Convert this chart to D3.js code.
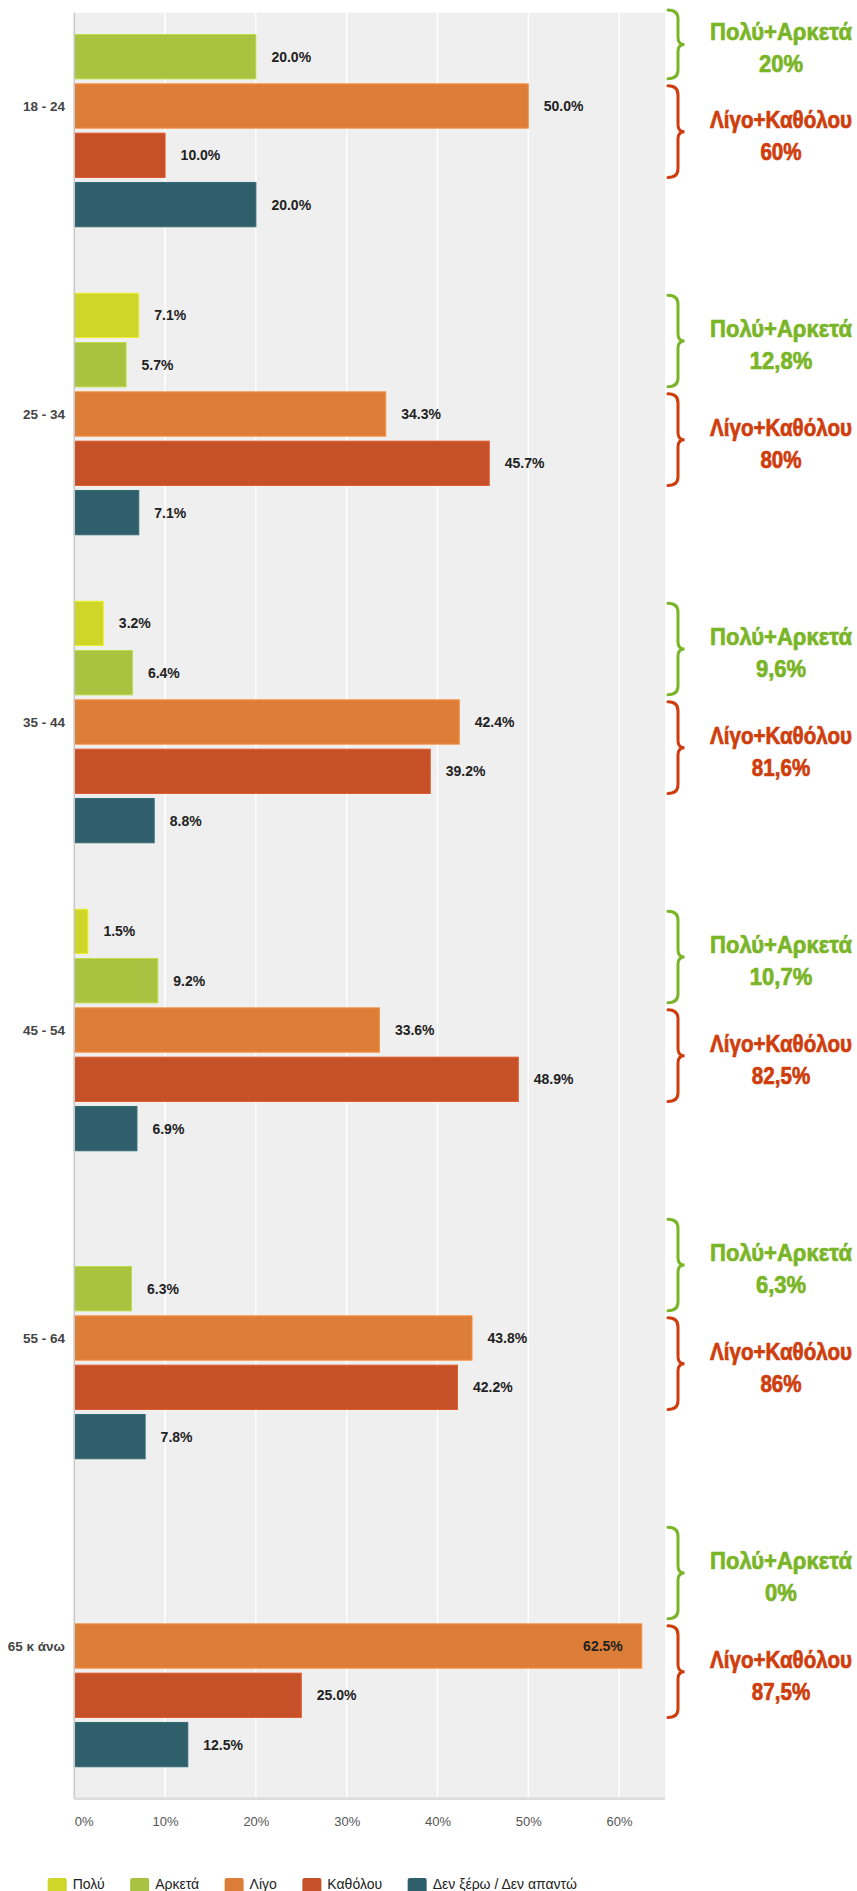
<!DOCTYPE html>
<html>
<head>
<meta charset="utf-8">
<script src="https://cdn.jsdelivr.net/npm/d3@7/dist/d3.min.js"></script>
<style>
	body { margin: 0; background: #fff; }
	svg { display: block; }
</style>
</head>
<body>
<div id="chartContainer"></div>
<script>
// Age groups (rows) and answer categories (bars inside each row)
var groups = ['18 - 24', '25 - 34', '35 - 44', '45 - 54', '55 - 64', '65 κ άνω'];
var series = ['Πολύ', 'Αρκετά', 'Λίγο', 'Καθόλου', 'Δεν ξέρω / Δεν απαντώ'];
var colors = ['#cfd628', '#a9c23f', '#dc7e37', '#c65129', '#2f5f6b'];

// Percentages per answer, one entry per age group (null = no bar)
var polu = [null, 7.1, 3.2, 1.5, null, null];
var arketa = [20.0, 5.7, 6.4, 9.2, 6.3, null];
var ligo = [50.0, 34.3, 42.4, 33.6, 43.8, 62.5];
var katholou = [10.0, 45.7, 39.2, 48.9, 42.2, 25.0];
var denXero = [20.0, 7.1, 8.8, 6.9, 7.8, 12.5];

// Summaries written next to the braces
var sumPositive = ['20%', '12,8%', '9,6%', '10,7%', '6,3%', '0%'];
var sumNegative = ['60%', '80%', '81,6%', '82,5%', '86%', '87,5%'];

var xTicks = [0, 10, 20, 30, 40, 50, 60];

var values = [polu, arketa, ligo, katholou, denXero];

/***********************************************************
  Start: Setup
***********************************************************/
var width = 857, height = 1891;
var plot = { left: 74.3, right: 665, top: 12.7, bottom: 1798.8 };

var svg = d3.select('#chartContainer')
	.append('svg')
	.attr('width', width)
	.attr('height', height);

var x = d3.scaleLinear().domain([0, 65]).range([plot.left, 664.5]);
var yGroup = d3.scaleBand().domain(groups).range([-48, 1800]).padding(0);
var ySeries = d3.scaleBand().domain(series).range([0, yGroup.bandwidth()])
	.paddingInner(0.1014).paddingOuter(0.674);
/***********************************************************
  End: Setup
***********************************************************/

// Plot background
svg.append('rect')
	.attr('x', plot.left)
	.attr('y', plot.top)
	.attr('width', plot.right - plot.left)
	.attr('height', plot.bottom - plot.top)
	.attr('fill', '#efefef');

// Vertical gridlines
svg.append('g')
	.selectAll('line')
	.data(xTicks.slice(1))
	.join('line')
	.attr('x1', function(d) { return x(d); })
	.attr('x2', function(d) { return x(d); })
	.attr('y1', plot.top)
	.attr('y2', plot.bottom)
	.attr('stroke', '#fff')
	.attr('stroke-width', 1.5);

/***********************************************************
  Start: Bars and value labels
***********************************************************/
var bars = [];
groups.forEach(function(g, gi) {
	series.forEach(function(s, si) {
		var v = values[si][gi];
		if (v !== null) bars.push({ group: g, series: s, color: colors[si], value: v });
	});
});

var barG = svg.append('g');
barG.selectAll('rect')
	.data(bars)
	.join('rect')
	.attr('x', x(0))
	.attr('y', function(d) { return yGroup(d.group) + ySeries(d.series); })
	.attr('width', function(d) { return x(d.value) - x(0); })
	.attr('height', ySeries.bandwidth())
	.attr('fill', function(d) { return d.color; })
	.attr('stroke', function(d) { return d3.color(d.color).brighter(0.35); })
	.attr('stroke-width', 1);

barG.selectAll('text')
	.data(bars)
	.join('text')
	.text(function(d) { return d.value.toFixed(1) + '%'; })
	.attr('y', function(d) { return yGroup(d.group) + ySeries(d.series) + ySeries.bandwidth() / 2; })
	.attr('dy', '0.36em')
	.style('font-family', 'Arial, "Liberation Sans", sans-serif')
	.style('font-weight', 'bold')
	.style('font-size', '14px')
	.attr('fill', '#222')
	.each(function(d) {
		var t = d3.select(this);
		var w = this.getComputedTextLength();
		// label doesn't fit to the right -> put it inside the bar
		if (x(d.value) + 15.5 + w > plot.right) {
			t.attr('x', x(d.value) - 19).style('text-anchor', 'end');
		} else {
			t.attr('x', x(d.value) + 15.5).style('text-anchor', 'start');
		}
	});
/***********************************************************
  End: Bars and value labels
***********************************************************/

// Left axis line
svg.append('line')
	.attr('x1', plot.left).attr('x2', plot.left)
	.attr('y1', plot.top).attr('y2', plot.bottom)
	.attr('stroke', '#c8c8c8')
	.attr('stroke-width', 1.5);

// Bottom axis
var xAxis = svg.append('g')
	.attr('transform', 'translate(0,' + plot.bottom + ')')
	.call(d3.axisBottom(x).tickValues(xTicks).tickFormat(function(d) { return d + '%'; })
		.tickSize(0).tickPadding(18));
xAxis.select('.domain').remove();
xAxis.append('line')
	.attr('x1', plot.left).attr('x2', plot.right)
	.attr('stroke', '#dcdcdc')
	.attr('stroke-width', 2.5);
xAxis.selectAll('text')
	.style('font-family', 'Arial, "Liberation Sans", sans-serif')
	.style('font-size', '13px')
	.attr('fill', '#555');
xAxis.selectAll('.tick').filter(function(d) { return d === 0; })
	.select('text').attr('text-anchor', 'start').attr('x', 0);

// Category labels
svg.append('g')
	.selectAll('text')
	.data(groups)
	.join('text')
	.text(function(d) { return d; })
	.attr('x', 65)
	.attr('y', function(d) { return yGroup(d) + ySeries('Λίγο') + ySeries.bandwidth() / 2; })
	.attr('dy', '0.36em')
	.style('text-anchor', 'end')
	.style('font-family', 'Arial, "Liberation Sans", sans-serif')
	.style('font-weight', 'bold')
	.style('font-size', '13.5px')
	.attr('fill', '#444');

/***********************************************************
  Start: Braces with summaries
***********************************************************/
function bracePath(yt, yb) {
	var x0 = 668, xm = 678, xt = 684.5, ym = (yt + yb) / 2, r = 9;
	return 'M' + x0 + ',' + yt +
		' Q' + xm + ',' + yt + ' ' + xm + ',' + (yt + r) +
		' L' + xm + ',' + (ym - 7) +
		' Q' + xm + ',' + ym + ' ' + xt + ',' + ym +
		' Q' + xm + ',' + ym + ' ' + xm + ',' + (ym + 7) +
		' L' + xm + ',' + (yb - r) +
		' Q' + xm + ',' + yb + ' ' + x0 + ',' + yb;
}

var braces = [];
groups.forEach(function(g, gi) {
	braces.push({ from: 'Πολύ', to: 'Αρκετά', group: g, title: 'Πολύ+Αρκετά', total: sumPositive[gi], color: '#7ab528' });
	braces.push({ from: 'Λίγο', to: 'Καθόλου', group: g, title: 'Λίγο+Καθόλου', total: sumNegative[gi], color: '#cf3d0c' });
});

var titleWidth = 142; // condensed look: squeeze the bold text to this width
var braceG = svg.append('g');
braces.forEach(function(b) {
	var yt = Math.max(yGroup(b.group) + ySeries(b.from) + 2, 10);
	var yb = yGroup(b.group) + ySeries(b.to) + ySeries.bandwidth();
	var ym = (yt + yb) / 2;
	braceG.append('path')
		.attr('d', bracePath(yt, yb))
		.attr('fill', 'none')
		.attr('stroke', b.color)
		.attr('stroke-width', 3)
		.attr('stroke-linecap', 'round');
	var lbl = braceG.append('g');
	var t = lbl.append('text')
		.attr('text-anchor', 'middle')
		.attr('fill', b.color)
		.attr('stroke', b.color)
		.attr('stroke-width', 0.7)
		.style('font-family', 'Arial, "Liberation Sans", sans-serif')
		.style('font-weight', 'bold')
		.style('font-size', '24px');
	var t1 = t.append('tspan').attr('x', 0).attr('y', ym - 4).text(b.title);
	t.append('tspan').attr('x', 0).attr('y', ym + 28).text(b.total);
	var sx = titleWidth / t1.node().getComputedTextLength();
	lbl.attr('transform', 'translate(781,0) scale(' + sx + ',1)');
});
/***********************************************************
  End: Braces with summaries
***********************************************************/

/***********************************************************
  Start: Legend
***********************************************************/
var legend = svg.append('g');
var lx = 47.7;
series.forEach(function(s, i) {
	legend.append('rect')
		.attr('x', lx).attr('y', 1878)
		.attr('width', 19).attr('height', 19)
		.attr('rx', 2)
		.attr('fill', colors[i]);
	var txt = legend.append('text')
		.text(s)
		.attr('x', lx + 25)
		.attr('y', 1889)
		.style('font-family', 'Arial, "Liberation Sans", sans-serif')
		.style('font-size', '14px')
		.attr('fill', '#222');
	lx += 25 + txt.node().getComputedTextLength() + 25.5;
});
/***********************************************************
  End: Legend
***********************************************************/
</script>
</body>
</html>
